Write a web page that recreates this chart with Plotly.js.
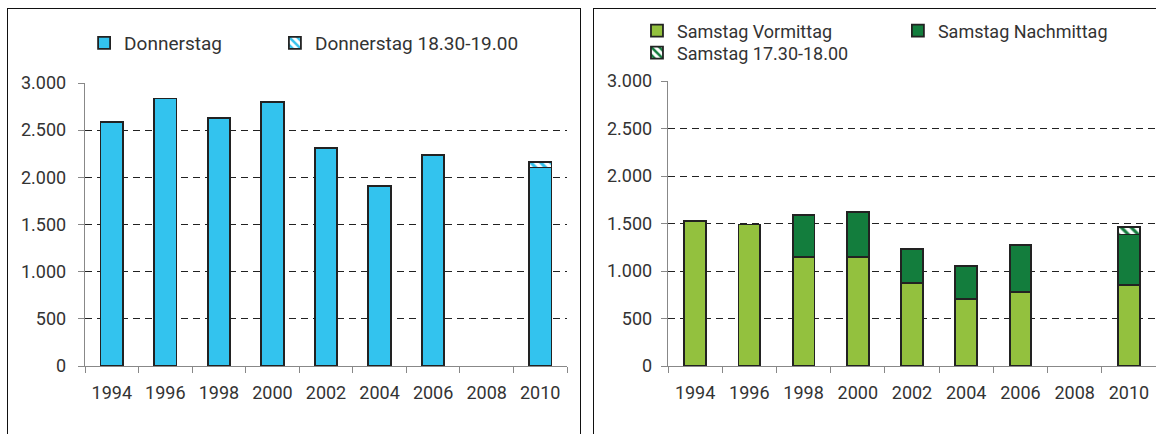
<!DOCTYPE html>
<html>
<head>
<meta charset="utf-8">
<script src="https://cdn.plot.ly/plotly-3.0.1.min.js"></script>
<style>
  html, body { margin: 0; padding: 0; width: 1156px; height: 434px; overflow: hidden; background: #fff; }
  #left { position: absolute; left: 0; top: 0; width: 580px; height: 434px; }
  #right { position: absolute; left: 590px; top: 0; width: 566px; height: 434px; }
  .frame { position: absolute; border: 1.5px solid #111; pointer-events: none; }
</style>
</head>
<body>
<div id="left"></div>
<div id="right"></div>
<div class="frame" style="left:7px; top:8px; width:572px; height:460px;"></div>
<div class="frame" style="left:593px; top:8px; width:600px; height:460px;"></div>
<script>
// years on the x axis (2008 has no survey)
var years = ["1994", "1996", "1998", "2000", "2002", "2004", "2006", "2008", "2010"];

// left chart: Donnerstag
var donnerstag      = [2590, 2835, 2630, 2795, 2315, 1910, 2240, null, 2105];
var donnerstagSpaet = [null, null, null, null, null, null, null, null, 60];

// right chart: Samstag
var samstagVor   = [1530, 1490, 1145, 1145, 870, 705, 780, null, 855];
var samstagNach  = [null, null, 445, 480, 365, 350, 490, null, 530];
var samstagSpaet = [null, null, null, null, null, null, null, null, 80];

var yTicks = [0, 500, 1000, 1500, 2000, 2500, 3000];

var blue = "#33c3ee";
var lightGreen = "#93c13e";
var darkGreen = "#137d3d";
var textCol = "#333";
var family = "Roboto, 'DejaVu Sans', sans-serif";
var font = { family: family, size: 18, color: textCol };

function outline() {
  return { color: "#222", width: 1.8 };
}

// one legend per entry so each can sit where the original has it
function legendAt(x, y, size) {
  return {
    orientation: "h", xref: "container", yref: "container",
    x: x, y: y, xanchor: "left", yanchor: "middle",
    font: { family: family, size: size, color: textCol },
    itemwidth: 30, bgcolor: "rgba(0,0,0,0)"
  };
}

function baseLayout(marginL, marginR, marginT, standoff) {
  return {
    barmode: "stack",
    bargap: 0.58,
    separators: ",.",
    font: font,
    paper_bgcolor: "#fff",
    plot_bgcolor: "#fff",
    margin: { l: marginL, r: marginR, t: marginT, b: 68, pad: 0 },
    showlegend: true,
    xaxis: {
      type: "category",
      categoryorder: "array",
      categoryarray: years,
      showline: true,
      linecolor: "#888",
      linewidth: 1.2,
      ticks: "outside",
      tickson: "boundaries",
      ticklen: 6,
      tickcolor: "#888",
      showgrid: false,
      ticklabelstandoff: 10,
      tickfont: font,
      fixedrange: true
    },
    yaxis: {
      range: [0, 3000],
      tickvals: yTicks,
      tickformat: ",d",
      showline: true,
      linecolor: "#888",
      linewidth: 1.2,
      ticks: "outside",
      ticklen: 6,
      tickcolor: "#888",
      showgrid: true,
      gridcolor: "#222",
      gridwidth: 1,
      griddash: "7px,5px",
      zeroline: false,
      ticklabelstandoff: standoff,
      tickfont: font,
      fixedrange: true
    }
  };
}

var config = { displayModeBar: false, staticPlot: true };

// left chart
var leftData = [
  { type: "bar", name: "Donnerstag", x: years, y: donnerstag, legend: "legend",
    marker: { color: blue, line: outline() } },
  { type: "bar", name: "Donnerstag 18.30-19.00", x: years, y: donnerstagSpaet, legend: "legend2",
    marker: { color: "#fff", line: outline(),
      pattern: { shape: "\\", fgcolor: blue, bgcolor: "#fff", size: 7, solidity: 0.45 } } }
];
var leftLayout = baseLayout(85, 13, 83, 8);
leftLayout.legend = legendAt(0.145, 0.901, 19);
leftLayout.legend2 = legendAt(0.474, 0.901, 19);
Plotly.newPlot("left", leftData, leftLayout, config);

// right chart
var rightData = [
  { type: "bar", name: "Samstag Vormittag", x: years, y: samstagVor, legend: "legend",
    marker: { color: lightGreen, line: outline() } },
  { type: "bar", name: "Samstag Nachmittag", x: years, y: samstagNach, legend: "legend2",
    marker: { color: darkGreen, line: outline() } },
  { type: "bar", name: "Samstag 17.30-18.00", x: years, y: samstagSpaet, legend: "legend3",
    marker: { color: "#fff", line: outline(),
      pattern: { shape: "\\", fgcolor: darkGreen, bgcolor: "#fff", size: 7, solidity: 0.45 } } }
];
var rightLayout = baseLayout(78, 0, 81, 5);
rightLayout.bargap = 0.6;
rightLayout.legend = legendAt(0.083, 0.9286, 18);
rightLayout.legend2 = legendAt(0.544, 0.9286, 18);
rightLayout.legend3 = legendAt(0.083, 0.8779, 18);
Plotly.newPlot("right", rightData, rightLayout, config);
</script>
</body>
</html>
